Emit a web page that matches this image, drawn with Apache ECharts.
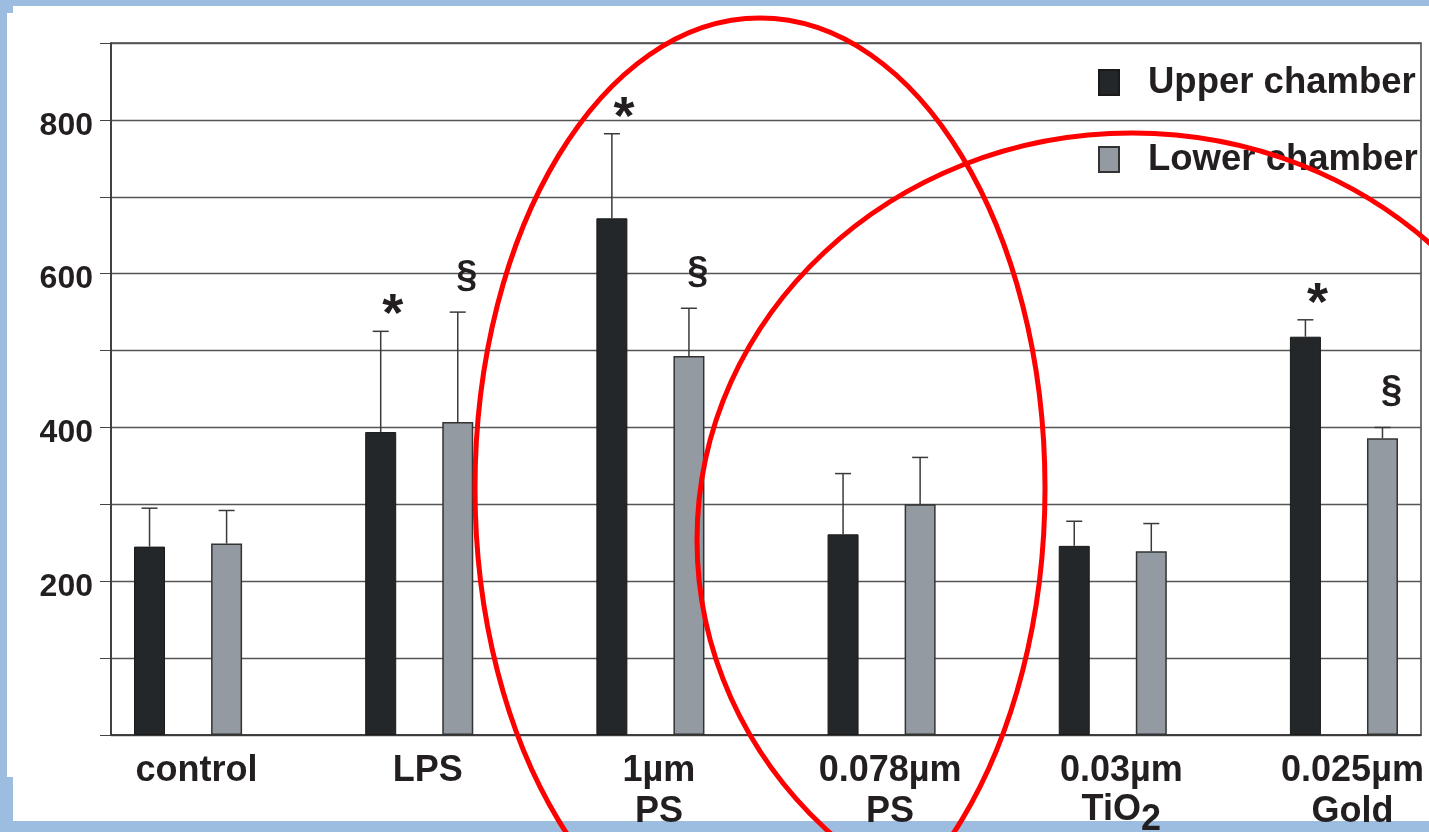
<!DOCTYPE html>
<html><head><meta charset="utf-8">
<script src="https://cdn.jsdelivr.net/npm/echarts@6/dist/echarts.min.js"></script>
<style>html,body{margin:0;padding:0;background:#9dbde0;overflow:hidden}#c{width:1429px;height:832px}</style>
</head><body><div id="c"></div>
<script>
// ---- data ----
const groups = ['control', 'LPS', '1µm PS', '0.078µm PS', '0.03µm TiO2', '0.025µm Gold'];
const seriesNames = ['Upper chamber', 'Lower chamber'];
const upperMean = [245, 394, 672, 261, 246, 518];
const upperSD   = [50, 131, 110, 79, 32, 22];
const lowerMean = [249, 407, 493, 300, 239, 386];
const lowerSD   = [43, 143, 62, 61, 36, 14];
const upperMark = ['', '*', '*', '', '', '*'];
const lowerMark = ['', '§', '§', '', '', '§'];
const yLabelValues = [200, 400, 600, 800];

// ---- build slots: each group = upper, lower, spacer (last group without spacer) ----
const slots = [];
groups.forEach((g, i) => {
  slots.push(g + '|U', g + '|L');
  if (i < groups.length - 1) slots.push(g + '|gap');
});
const upperBars = slots.map((s, k) => (k % 3 === 0 ? upperMean[k / 3] : '-'));
const lowerBars = slots.map((s, k) => (k % 3 === 1 ? lowerMean[(k - 1) / 3] : '-'));
const upperErr = groups.map((g, i) => [3 * i, upperMean[i], upperMean[i] + upperSD[i]]);
const lowerErr = groups.map((g, i) => [3 * i + 1, lowerMean[i], lowerMean[i] + lowerSD[i]]);

const FONT = '"Liberation Sans", Arial, Helvetica, sans-serif';
const TXT = '#231f20';

function makeErr(marks, markFont, dx, dy) {
  return function (params, api) {
    const x = api.value(0);
    const p0 = api.coord([x, api.value(1)]);
    const p1 = api.coord([x, api.value(2)]);
    const st = { stroke: '#3a3a3a', lineWidth: 1.5 };
    const children = [
      { type: 'line', shape: { x1: p0[0], y1: p0[1], x2: p1[0], y2: p1[1] }, style: st },
      { type: 'line', shape: { x1: p1[0] - 8, y1: p1[1], x2: p1[0] + 8, y2: p1[1] }, style: st }
    ];
    const m = marks[params.dataIndex];
    if (m) {
      children.push({
        type: 'text', x: p1[0] + dx, y: p1[1] - dy,
        style: { text: m, font: markFont, fill: TXT, align: 'center', verticalAlign: 'middle' }
      });
    }
    return { type: 'group', children };
  };
}

const chart = echarts.init(document.getElementById('c'));
chart.setOption({
  animation: false,
  backgroundColor: '#9dbde0',
  graphic: [
    { type: 'rect', z: -100, silent: true, shape: { x: 13, y: 6, width: 1416, height: 815 }, style: { fill: '#ffffff' } },
    { type: 'rect', z: -100, silent: true, shape: { x: 7, y: 13, width: 10, height: 764 }, style: { fill: '#ffffff' } },
    { type: 'ellipse', z: 100, silent: true, shape: { cx: 760, cy: 488, rx: 285, ry: 470 }, style: { fill: 'none', stroke: '#ff0000', lineWidth: 5 } },
    { type: 'ellipse', z: 100, silent: true, shape: { cx: 1132, cy: 540, rx: 435, ry: 407 }, style: { fill: 'none', stroke: '#ff0000', lineWidth: 5 } }
  ],
  grid: { left: 111, right: 8, top: 43, bottom: 97, outerBoundsMode: 'none', containLabel: false,
          show: true, borderColor: '#444', borderWidth: 1.5 },
  legend: {
    orient: 'vertical', left: 1098, top: 64, padding: 0, itemWidth: 20, itemHeight: 25, itemGap: 40,
    icon: 'rect', selectedMode: false, data: seriesNames,
    textStyle: { fontSize: 36.5, fontWeight: 'bold', color: TXT, fontFamily: FONT, padding: [0, 0, 0, 24] }
  },
  xAxis: {
    type: 'category', data: slots, boundaryGap: true,
    axisLine: { lineStyle: { color: '#333', width: 1.5 } },
    axisTick: { interval: 0, length: 12, lineStyle: { color: '#333', width: 1.2 } },
    axisLabel: {
      interval: (i) => i % 3 === 1,
      margin: 16,
      padding: [0, 60, 0, 0],
      formatter: (v) => v.split('|')[0].split(' ').map(l => l === 'TiO2' ? '{t|TiO}{s|2}' : '{a|' + l + '}').join('\n'),
      rich: {
        a: { fontSize: 36, fontWeight: 'bold', color: TXT, fontFamily: FONT, lineHeight: 41 },
        t: { fontSize: 36, fontWeight: 'bold', color: TXT, fontFamily: FONT, lineHeight: 41, verticalAlign: 'top' },
        s: { fontSize: 36, fontWeight: 'bold', color: TXT, fontFamily: FONT, lineHeight: 41, verticalAlign: 'top', padding: [10, 0, 0, 0] }
      }
    },
    splitLine: { show: false }
  },
  yAxis: {
    type: 'value', min: 0, max: 900, interval: 100,
    axisLine: { show: true, lineStyle: { color: '#333', width: 1.5 } },
    axisTick: { show: true, length: 11, lineStyle: { color: '#444' } },
    axisLabel: {
      margin: 18,
      formatter: (v) => (yLabelValues.indexOf(v) >= 0 ? '{y|' + v + '}' : ''),
      rich: {
        y: { fontSize: 32, fontWeight: 'bold', color: TXT, fontFamily: FONT, lineHeight: 36, padding: [12, 0, 0, 0] }
      }
    },
    splitLine: { lineStyle: { color: '#555', width: 1.3 } }
  },
  series: [
    { name: seriesNames[0], type: 'bar', data: upperBars, barWidth: 31, barGap: '-100%',
      itemStyle: { color: '#23272a', borderColor: '#1a1a1a', borderWidth: 1 }, z: 3 },
    { name: seriesNames[1], type: 'bar', data: lowerBars, barWidth: 31, barGap: '-100%',
      itemStyle: { color: '#939aa2', borderColor: '#333', borderWidth: 1.5 }, z: 3 },
    { type: 'custom', data: upperErr, renderItem: makeErr(upperMark, 'bold 54px ' + FONT, 12, 15), z: 4, silent: true },
    { type: 'custom', data: lowerErr, renderItem: makeErr(lowerMark, 'bold 38px ' + FONT, 9, 36), z: 4, silent: true }
  ]
});
</script>
</body></html>
